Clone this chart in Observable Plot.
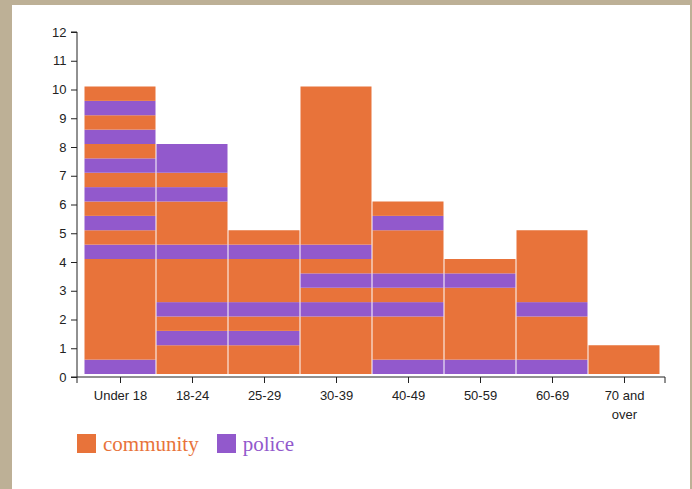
<!DOCTYPE html>
<html>
<head>
<meta charset="utf-8">
<script src="https://cdn.jsdelivr.net/npm/d3@7"></script>
<script src="https://cdn.jsdelivr.net/npm/@observablehq/plot@0.6"></script>
<style>
  html, body { margin: 0; padding: 0; }
  body { width: 692px; height: 489px; background: #bdb096; position: relative; overflow: hidden; }
  #sheet { position: absolute; left: 12px; top: 5px; width: 678px; height: 484px; background: #fff; }
  #chart { position: absolute; left: 0; top: 0; }
  #legend { position: absolute; left: 77px; top: 434px; display: flex; align-items: flex-start;
            font-family: "Liberation Serif", "Times New Roman", serif; font-size: 21px; line-height: 21px; }
  .item { display: flex; align-items: flex-start; margin-right: 18px; }
  .swatch { width: 19px; height: 19px; margin-right: 7px; }
</style>
</head>
<body>
<div id="sheet"></div>
<div id="chart"></div>
<div id="legend"></div>
<script>
// Age groups along the x axis
const ageGroups = ["Under 18", "18-24", "25-29", "30-39", "40-49", "50-59", "60-69", "70 and over"];

// Reporting source of each record
const sources = ["community", "police"];
const sourceColors = ["#e8733a", "#9259cc"];

// Each bar is a stack of half-unit cells, listed from the bottom up
// (c = community, p = police), one string per age group.
const stacks = [
  "pc cc cc cc pc pc pc pc pc pc",
  "cc pc pc cc pc cc pc pp",
  "cc pc pc cc pc",
  "cc cc pc pc pc cc cc cc cc cc",
  "pc cc pc pc cc pc",
  "pc cc cc pc",
  "pc cc pc cc cc",
  "cc"
];
const cellValue = 0.5;

// y axis ticks
const yTicks = [0, 1, 2, 3, 4, 5, 6, 7, 8, 9, 10, 11, 12];

// Join neighbouring cells of the same source into one segment so the
// stack has no seams inside a run of one colour.
const codeToSource = {c: "community", p: "police"};
const segments = [];
ageGroups.forEach((age, i) => {
  let last = null;
  for (const ch of stacks[i].replace(/\s+/g, "")) {
    const source = codeToSource[ch];
    if (last && last.source === source) last.value += cellValue;
    else segments.push(last = {age, source, value: cellValue});
  }
});

const plot = Plot.plot({
  width: 692,
  height: 425,
  marginLeft: 77,
  marginRight: 27,
  marginTop: 32,
  marginBottom: 48,
  style: {background: "none", fontFamily: "'Liberation Sans', Arial, sans-serif", fontSize: "13px", color: "#222"},
  x: {domain: ageGroups, paddingInner: 0, paddingOuter: 1 / 12, align: 0.58, label: null},
  y: {domain: [0, 12], label: null},
  color: {domain: sources, range: sourceColors},
  marks: [
    Plot.rectY(segments, {x: "age", y: "value", fill: "source", insetLeft: 0.5, insetRight: 0.5, dy: -3}),
    Plot.axisY({ticks: yTicks, tickSize: 6, tickPadding: 5, tickFormat: d => d}),
    Plot.axisX({tickSize: 6, tickPadding: 3, lineWidth: 5, lineHeight: 1.45})
  ]
});
document.getElementById("chart").appendChild(plot);

// d3-style domain paths with outer ticks, taken from the scale ranges
const xr = plot.scale("x").range;
const yr = plot.scale("y").range;
const svg = d3.select(plot);
svg.append("path")
  .attr("fill", "none").attr("stroke", "#222")
  .attr("d", `M${xr[0]},${yr[0] + 6}V${yr[0]}H${xr[1]}V${yr[0] + 6}`);
svg.append("path")
  .attr("fill", "none").attr("stroke", "#222")
  .attr("d", `M${xr[0] - 6},${yr[1]}H${xr[0]}V${yr[0]}H${xr[0] - 6}`);

// Legend
const legend = d3.select("#legend");
sources.forEach((s, i) => {
  const item = legend.append("div").attr("class", "item");
  item.append("div").attr("class", "swatch").style("background", sourceColors[i]);
  item.append("span").style("color", sourceColors[i]).text(s);
});
</script>
</body>
</html>
